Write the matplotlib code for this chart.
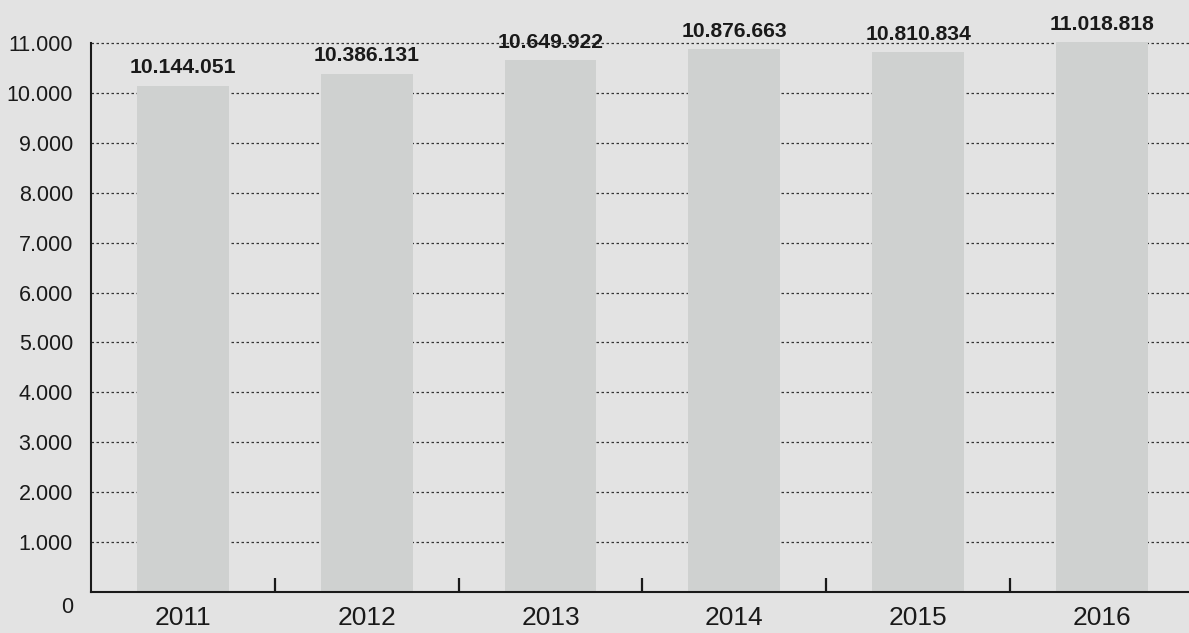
import matplotlib.pyplot as plt
import matplotlib.transforms as mtransforms
from matplotlib.ticker import FixedLocator

# values
years = ["2011", "2012", "2013", "2014", "2015", "2016"]
values = [10144051, 10386131, 10649922, 10876663, 10810834, 11018818]
value_labels = ["10.144.051", "10.386.131", "10.649.922", "10.876.663", "10.810.834", "11.018.818"]
y_ticks = list(range(0, 12000, 1000))
y_tick_labels = ["0"] + [f"{v // 1000}.000" for v in y_ticks[1:]]

plt.rcParams['font.family'] = ['Liberation Sans', 'DejaVu Sans']

BG = '#e3e3e3'
BAR = '#cfd1d0'

fig = plt.figure(figsize=(11.89, 6.33), dpi=100, facecolor=BG)
ax = fig.add_axes([91 / 1189, 41 / 633, 1 - 91 / 1189 + 0.004, 1 - 41 / 633])
ax.set_facecolor(BG)

# scale values to thousands for the axis
vals_k = [v / 1000 for v in values]
x = list(range(len(years)))
ax.bar(x, vals_k, width=0.5, color=BAR, zorder=2)

for xi, v, lab in zip(x, vals_k, value_labels):
    ax.annotate(lab, (xi, v), xytext=(0, 6), textcoords='offset points',
                ha='center', va='bottom', fontsize=15.2, fontweight='bold', color='#1a1a1a')

ax.set_xlim(-0.5, len(years) - 0.5)
ax.set_ylim(0, 11860)

ax.set_yticks(y_ticks)
ax.set_yticklabels(y_tick_labels, fontsize=15.5, color='#1a1a1a')
ax.tick_params(axis='y', length=0, pad=13)
ax.yaxis.grid(True, linestyle=(0, (2, 2)), linewidth=0.9, color='#333333', zorder=1)

# push the "0" label down a bit like in the reference
zero_lab = ax.get_yticklabels()[0]
zero_lab.set_transform(zero_lab.get_transform() + mtransforms.ScaledTranslation(0, -13 / 100, fig.dpi_scale_trans))

ax.set_xticks(x)
ax.set_xticklabels(years, fontsize=19, color='#1a1a1a')
ax.tick_params(axis='x', which='major', length=0, pad=10)
ax.xaxis.set_minor_locator(FixedLocator([i + 0.5 for i in range(len(years) - 1)]))
ax.tick_params(axis='x', which='minor', direction='in', length=10, width=1.6, color='#1a1a1a')

for s in ['top', 'right']:
    ax.spines[s].set_visible(False)
ax.spines['left'].set_bounds(0, 11000)
ax.spines['left'].set_linewidth(1.5)
ax.spines['bottom'].set_linewidth(1.5)
ax.spines['left'].set_color('#1a1a1a')
ax.spines['bottom'].set_color('#1a1a1a')
ax.spines['bottom'].set_zorder(3)

fig.savefig('out.png', dpi=100, facecolor=BG)
